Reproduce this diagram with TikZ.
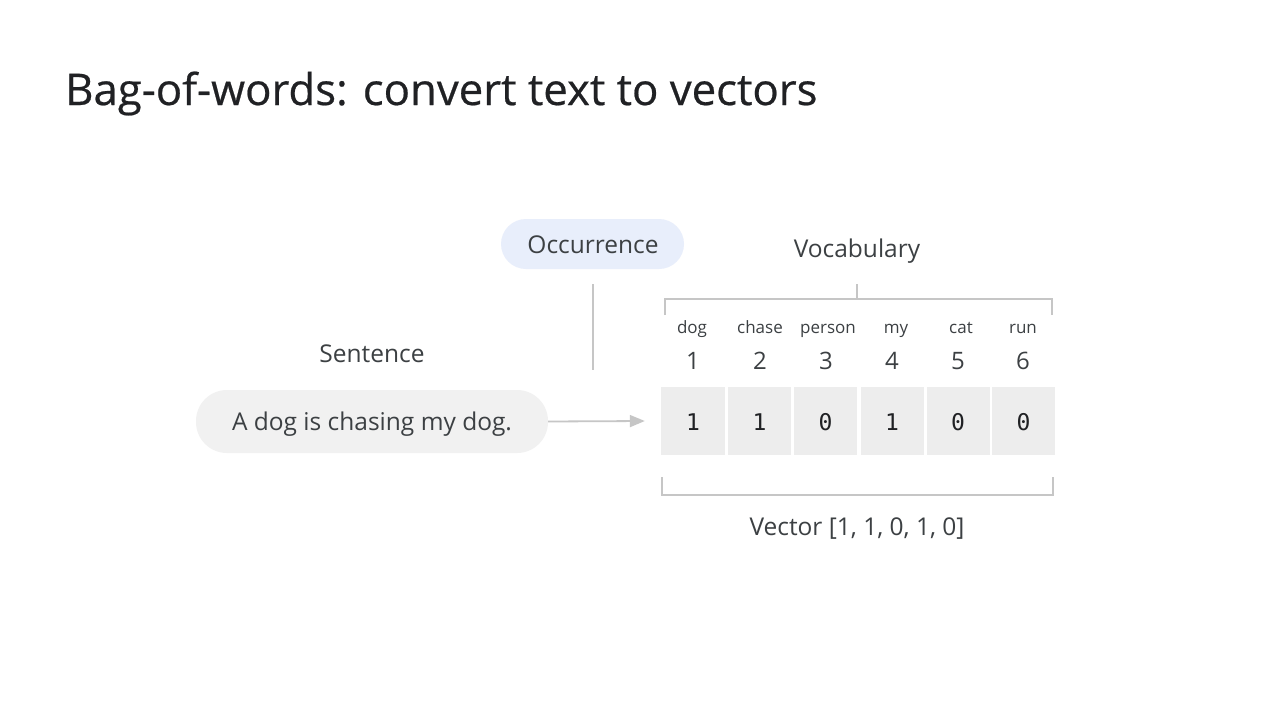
\documentclass[tikz,border=0pt]{standalone}
\usepackage{fontspec}
\setmainfont{Open Sans}
\setmonofont{DejaVu Sans Mono}
\newfontfamily\titlefont[FakeBold=0.5]{Open Sans}
\usetikzlibrary{arrows.meta}
\definecolor{txt}{HTML}{3C4043}
\definecolor{ttl}{HTML}{202124}
\definecolor{ln}{HTML}{C6C6C6}
\definecolor{pillblue}{HTML}{E8EEFB}
\definecolor{pillgray}{HTML}{F1F1F1}
\definecolor{cellgray}{HTML}{EDEDED}
\tikzset{
  lbl/.style={text=txt,font=\fontsize{24.5}{28}\selectfont,inner sep=0pt},
  word/.style={text=txt,font=\fontsize{17}{20}\selectfont,inner sep=0pt,anchor=base},
  idx/.style={text=txt,font=\fontsize{24}{28}\selectfont,inner sep=0pt,anchor=base},
  cell/.style={fill=cellgray,draw=none,minimum width=63pt,minimum height=68pt,inner sep=0pt},
  celltxt/.style={text=ttl,font=\ttfamily\fontsize{23}{27}\selectfont,inner sep=0pt,anchor=base},
  pill/.style={rounded corners=25pt,draw=none,inner sep=0pt},
  gline/.style={draw=ln,line width=1.5pt},
}
\begin{document}
\begin{tikzpicture}[x=1pt,y=-1pt]
\useasboundingbox[fill=white] (0,0) rectangle (1280,720);
\node[anchor=base west,text=ttl,inner sep=0pt,font=\titlefont\fontsize{43.7}{48}\selectfont] (title) at (65,105) {Bag-of-words: convert text to vectors};

% Occurrence
\node[pill,fill=pillblue,minimum width=183pt,minimum height=50pt] (occ) at (592.5,244) {};
\node[lbl,anchor=base] (occt) at (593,253) {Occurrence};
\coordinate (occtop) at (593,284);
\coordinate (occbot) at (593,370);
\draw[gline] (occtop) -- (occbot);

% Vocabulary
\node[lbl,anchor=base] (vocab) at (857,257) {Vocabulary};
\coordinate (vt) at (857,284);
\coordinate (vm) at (857,299);
\coordinate (vl) at (665,299);
\coordinate (vr) at (1052,299);
\coordinate (vld) at (665,315);
\coordinate (vrd) at (1052,315);
\draw[gline] (vt) -- (vm);
\draw[gline] (vld) -- (vl) -- (vr) -- (vrd);

% words
\node[word] (w1) at (692,333) {dog};
\node[word] (w2) at (760,333) {chase};
\node[word] (w3) at (828,333) {person};
\node[word] (w4) at (896,333) {my};
\node[word] (w5) at (961,333) {cat};
\node[word] (w6) at (1023,333) {run};
\node[idx] (n1) at (693,369) {1};
\node[idx] (n2) at (760,369) {2};
\node[idx] (n3) at (826,369) {3};
\node[idx] (n4) at (892,369) {4};
\node[idx] (n5) at (958,369) {5};
\node[idx] (n6) at (1023,369) {6};

% cells
\node[cell,minimum width=64pt] (c1) at (693,421) {};
\node[cell] (c2) at (759.5,421) {};
\node[cell] (c3) at (825.5,421) {};
\node[cell] (c4) at (892,421) {};
\node[cell] (c5) at (958,421) {};
\node[cell] (c6) at (1023.5,421) {};
\node[celltxt] (d1) at (693,430) {1};
\node[celltxt] (d2) at (759.5,430) {1};
\node[celltxt] (d3) at (825.5,430) {0};
\node[celltxt] (d4) at (892,430) {1};
\node[celltxt] (d5) at (958,430) {0};
\node[celltxt] (d6) at (1023.5,430) {0};

% sentence
\node[lbl,anchor=base] (sentlbl) at (372,362) {Sentence};
\node[pill,fill=pillgray,minimum width=352pt,minimum height=63pt,rounded corners=31pt] (sent) at (372,421.5) {};
\node[lbl,anchor=base] (sentt) at (372,430) {A dog is chasing my dog.};
\draw[draw=ln,line width=1.8pt,-{Triangle[length=15pt,width=12pt]}] (sent.east) -- ([xshift=-16pt]c1.west);

% bottom bracket
\coordinate (bl) at (662,495);
\coordinate (br) at (1053,495);
\coordinate (blu) at (662,477);
\coordinate (bru) at (1053,477);
\draw[gline] (blu) -- (bl) -- (br) -- (bru);
\node[lbl,anchor=base] (vec) at (857,535) {Vector [1, 1, 0, 1, 0]};
\end{tikzpicture}
\end{document}
